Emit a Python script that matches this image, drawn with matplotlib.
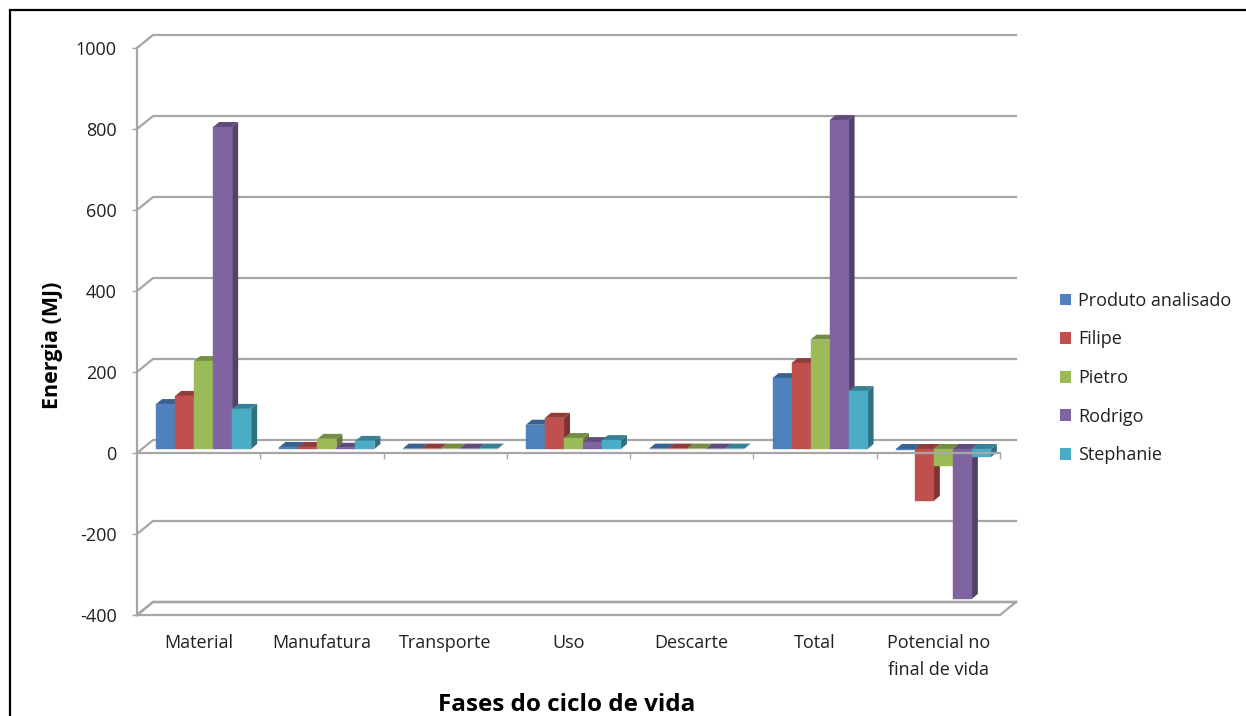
import matplotlib
matplotlib.use('Agg')
import matplotlib.pyplot as plt
from matplotlib.colors import to_rgb
from matplotlib.lines import Line2D
from matplotlib.patches import Patch

plt.rcParams['axes.unicode_minus'] = False

W, H = 1246, 716

categories = ['Material', 'Manufatura', 'Transporte', 'Uso', 'Descarte', 'Total',
              'Potencial no\nfinal de vida']
series_names = ['Produto analisado', 'Filipe', 'Pietro', 'Rodrigo', 'Stephanie']
produto = [111, 5, 1, 60, 1, 175, -3]
filipe = [131, 5, 1, 77, 1, 212, -128]
pietro = [217, 25, 1, 27, 1, 270, -42]
rodrigo = [795, 3, 1, 17, 1, 812, -370]
stephanie = [99, 20, 1, 22, 1, 143, -20]
all_series = [produto, filipe, pietro, rodrigo, stephanie]
colors = ['#4F81BD', '#C0504D', '#9BBB59', '#8064A2', '#4BACC6']
y_ticks = [-400, -200, 0, 200, 400, 600, 800, 1000]

GRID = '#A6A6A6'
TEXT = '#202020'

# plot box in pixels, everything else is offset from it
left, right, top, bottom = 137, 1000, 48, 615


def darker(color, k):
    return tuple(c * k for c in to_rgb(color))


fig = plt.figure(figsize=(W / 100, H / 100), dpi=100)
ax = fig.add_axes([left / W, 1 - bottom / H, (right - left) / W, (bottom - top) / H])
ax.set_xlim(0, len(categories))
ax.set_ylim(-400, 1000)
ax.patch.set_alpha(0)

px_x = len(categories) / (right - left)
px_y = 1400 / (bottom - top)

# depth of the back wall and of the bars
wall_dx, wall_dy = 16 * px_x, 13 * px_y
bar_dx, bar_dy = 6 * px_x, 5 * px_y
shift_x, shift_y = 5 * px_x, 4 * px_y
bar_w = 19 * px_x

# back wall lines
for v in y_ticks:
    lw = 1.9 if v == -400 else 1.6
    ax.plot([0, wall_dx, 7 + wall_dx], [v, v + wall_dy, v + wall_dy], color=GRID, lw=lw,
            clip_on=False, zorder=1, solid_joinstyle='miter')

# floor edge
ax.plot([0, 7, 7 + wall_dx], [-400, -400, -400 + wall_dy], color=GRID, lw=1.6,
        clip_on=False, zorder=1)

for i in range(len(categories)):
    x0 = i + 0.5 + shift_x - 2.5 * bar_w
    for j, values in enumerate(all_series):
        v = values[i]
        xa = x0 + j * bar_w
        xb = xa + bar_w
        base = shift_y
        end = base + v
        z = 3 + 0.01 * i + 0.001 * j
        c = colors[j]
        high = max(base, end)
        low = min(base, end)
        # side face
        ax.fill([xb, xb + bar_dx, xb + bar_dx, xb],
                [low, low + bar_dy, high + bar_dy, high],
                color=darker(c, 0.65), lw=0, zorder=z, clip_on=False)
        # top face
        ax.fill([xa, xa + bar_dx, xb + bar_dx, xb],
                [high, high + bar_dy, high + bar_dy, high],
                color=darker(c, 0.75), lw=0, zorder=z, clip_on=False)
        # front face
        ax.bar(xa, end - base, width=bar_w, bottom=base, align='edge', color=c,
               edgecolor=c, lw=0.3, zorder=z + 0.0001, clip_on=False)

# category axis at zero with its separators
ax.plot([0, 7], [0, 0], color=GRID, lw=1.6, zorder=6, clip_on=False)
ax.vlines(range(1, 8), -6 * px_y, 0, color=GRID, lw=1.0, zorder=6, clip_on=False)

for side in ['top', 'right', 'bottom']:
    ax.spines[side].set_visible(False)
ax.spines['left'].set_color(GRID)
ax.spines['left'].set_linewidth(1.6)

ax.set_yticks(y_ticks)
ax.tick_params(axis='y', length=3.5, width=1.0, color=GRID, pad=11, labelsize=13,
               labelcolor=TEXT)
ax.set_xticks([i + 0.5 for i in range(len(categories))])
ax.set_xticklabels(categories, linespacing=1.62)
ax.tick_params(axis='x', length=0, pad=14, labelsize=13, labelcolor=TEXT)
for label in ax.get_xticklabels() + ax.get_yticklabels():
    label.set_fontfamily('Open Sans')

ax.set_ylabel('Energia (MJ)', fontsize=15.5, fontweight='bold', family='Open Sans', color='black')
ax.yaxis.set_label_coords((63 - left) / (right - left), (bottom - 345) / (bottom - top))
ax.set_xlabel('Fases do ciclo de vida', fontsize=17.5, fontweight='bold', family='Open Sans',
              color='black')
ax.xaxis.set_label_coords((567 - left) / (right - left), (bottom - 705) / (bottom - top))
ax.xaxis.label.set_verticalalignment('center')

handles = [Patch(facecolor=c, edgecolor=c, lw=0) for c in colors]
leg = fig.legend(handles, series_names, loc='center left', frameon=False,
                 bbox_to_anchor=(1060 / W, 1 - 378 / H), borderpad=0, borderaxespad=0,
                 handlelength=0.63, handleheight=0.63, handletextpad=0.38, labelspacing=1.14,
                 prop={'family': 'Open Sans', 'size': 13})
for t in leg.get_texts():
    t.set_color(TEXT)

# outer frame, only the top and left edges are in view
fig.add_artist(Line2D([10 / W, 10 / W, 1], [0, 1 - 10 / H, 1 - 10 / H], color='black', lw=1.6,
                      solid_joinstyle='miter'))

fig.savefig('out.png', dpi=100)
